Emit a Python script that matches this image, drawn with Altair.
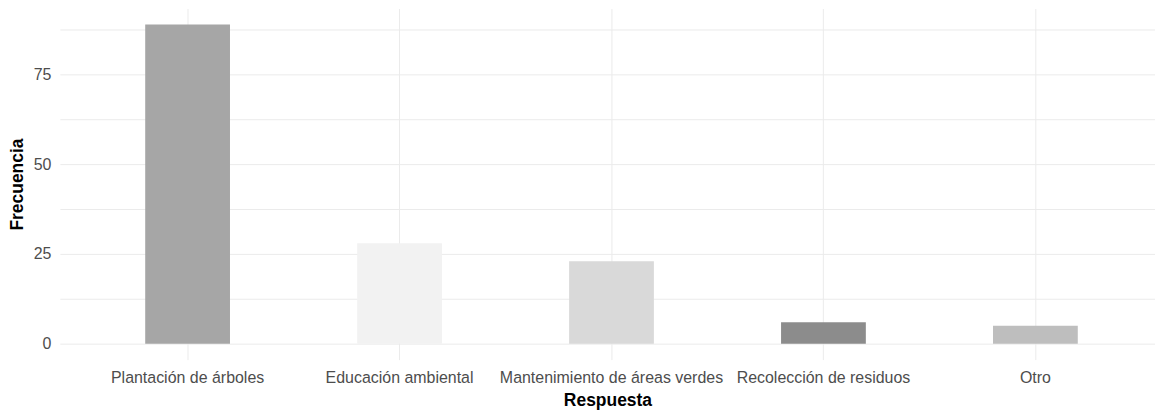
import altair as alt
import pandas as pd

categorias = ["Plantación de árboles", "Educación ambiental", "Mantenimiento de áreas verdes",
              "Recolección de residuos", "Otro"]
frecuencias = [89, 28, 23, 6, 5]
colores = ["#A6A6A6", "#F2F2F2", "#D9D9D9", "#8C8C8C", "#BEBEBE"]

df = pd.DataFrame({"Respuesta": categorias, "Frecuencia": frecuencias})

FONT = "Liberation Sans"

chart = alt.Chart(df).mark_bar().encode(
    x=alt.X("Respuesta:N", sort=categorias,
            scale=alt.Scale(paddingInner=0.6, paddingOuter=0.3835, align=0.525),
            axis=alt.Axis(title="Respuesta", labelAngle=0, ticks=False, domain=False,
                          grid=True, bandPosition=0.5, gridColor="#EBEBEB", gridWidth=1,
                          labelColor="#4D4D4D", labelFontSize=16, labelFont=FONT,
                          labelLimit=400, labelPadding=10, titleFont=FONT, titleFontSize=17.5,
                          titleFontWeight="bold", titleColor="#000000", titlePadding=6)),
    y=alt.Y("Frecuencia:Q",
            scale=alt.Scale(domain=[-4.45, 93.45], nice=False, zero=False),
            axis=alt.Axis(title="Frecuencia", values=[0, 12.5, 25, 37.5, 50, 62.5, 75, 87.5],
                          labelExpr="datum.value % 25 == 0 ? datum.label : ''",
                          ticks=False, domain=False, gridColor="#EBEBEB", gridWidth=1,
                          labelColor="#4D4D4D", labelFontSize=16, labelFont=FONT,
                          labelPadding=9, titleFont=FONT, titleFontSize=17.5,
                          titleFontWeight="bold", titleColor="#000000", titlePadding=7)),
    color=alt.Color("Respuesta:N", sort=categorias,
                    scale=alt.Scale(domain=categorias, range=colores), legend=None),
).properties(
    width=1098, height=352,
    padding={"left": 0, "top": 0, "right": 0, "bottom": 0},
).configure_view(stroke=None)

chart.save("out.html", embed_options={"renderer": "svg", "actions": False})
